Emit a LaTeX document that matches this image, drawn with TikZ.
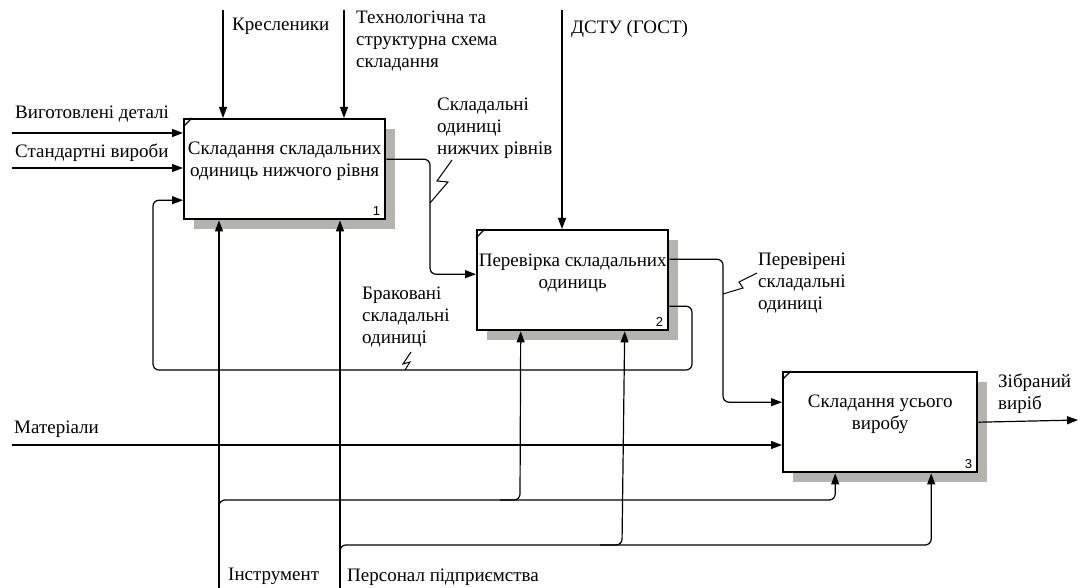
\documentclass[tikz,border=0pt]{standalone}
\usepackage{fontspec}
\setmainfont{Liberation Serif}
\setsansfont{Liberation Sans}
\usetikzlibrary{arrows.meta, shadows}

\begin{document}
\begin{tikzpicture}[x=1pt, y=-1pt,
    func/.style={draw=borderColour, fill=white, line width=2.4pt, minimum width=#1,
        minimum height=100pt, inner sep=0pt, anchor=north west,
        general shadow={fill=shadowColour, shadow xshift=10pt, shadow yshift=-10pt}},
    functext/.style={align=center, font=\fontsize{19}{22}\selectfont},
    num/.style={font=\sffamily\fontsize{13}{13}\selectfont, inner sep=1pt, anchor=south east},
    flow/.style={line width=1.2pt, draw=borderColour, rounded corners=6pt,
        -{Triangle[length=11pt,width=8pt]}},
    label/.style={anchor=west, align=left, inner sep=0pt, font=\fontsize{19}{22}\selectfont},
    squiggle/.style={line width=1pt, draw=borderColour}]

    \definecolor{borderColour}{HTML}{000000}
    \definecolor{shadowColour}{HTML}{B5B3AE}

    % Fix page size
    \useasboundingbox (0,0) rectangle (1080,588);

    % Draw the three function boxes
    \node[func=201pt] (b1) at (183,118) {};
    \node[func=191pt] (b2) at (476,229) {};
    \node[func=194pt] (b3) at (782,371) {};

    \foreach \b/\n in {b1/1, b2/2, b3/3} {
        \draw[line width=1.2pt] ([yshift=-9pt]\b.north west) -- ([xshift=9pt]\b.north west);
        \node[num] at ([xshift=-5pt, yshift=4pt]\b.south east) {\n};
    }

    \node[functext] at ([yshift=8pt]b1.center) {Складання складальних\\одиниць нижчого рівня};
    \node[functext] at ([yshift=7pt]b2.center) {Перевірка складальних\\одиниць};
    \node[functext] at ([yshift=8pt]b3.center) {Складання усього\\виробу};

    % Define free ends of the arrows
    \coordinate (parts) at (12,133);
    \coordinate (standard) at (12,168);
    \coordinate (materials) at (12,445);
    \coordinate (drawings) at (223,10);
    \coordinate (scheme) at (344,10);
    \coordinate (standards) at (562,10);
    \coordinate (tools) at (219,588);
    \coordinate (staff) at (340,588);
    \coordinate (product) at (1078,420);

    % Draw inputs
    \draw[flow] (parts) -- (parts -| b1.west);
    \draw[flow] (standard) -- (standard -| b1.west);
    \draw[flow] (materials) -- (materials -| b3.west);

    % Draw controls
    \draw[flow] (drawings) -- (drawings |- b1.north);
    \draw[flow] (scheme) -- (scheme |- b1.north);
    \draw[flow] (standards) -- (standards |- b2.north);

    % Draw links between the boxes
    \draw[flow] ([yshift=10pt]b1.east) -| (430,220) |- ([yshift=6pt]b2.west);
    \draw[flow] ([yshift=21pt]b2.east) -| (723,330) |- ([yshift=20pt]b3.west);
    \draw[flow] ([yshift=-26pt]b2.east) -| (692,370) -| (153,250) |- ([yshift=-31pt]b1.west);
    \draw[flow] (b3.east) -- (product);

    % Draw mechanisms
    \draw[flow] (tools) -- (tools |- b1.south);
    \draw[flow] (219,520) |- (520,500) -- ([xshift=-52pt]b2.south);
    \draw[flow] (500,500) -| ([xshift=-45pt]b3.south);
    \draw[flow] (staff) -- (staff |- b1.south);
    \draw[flow] (340,565) |- (622,545) -- ([xshift=52pt]b2.south);
    \draw[flow] (600,545) -| ([xshift=51pt]b3.south);

    % Draw squiggles for the labels
    \draw[squiggle] (430,203) -- (448,182) -- (437,181) -- (452,160);
    \draw[squiggle] (405,370) -- (410,362) -- (403,364) -- (411,352);
    \draw[squiggle] (723,294) -- (743,288) -- (739,282) -- (757,273);

    % Label the arrows
    \node[label] (lparts) at (15,114) {Виготовлені деталі};
    \node[label] (lstandard) at (15,153) {Стандартні вироби};
    \node[label] (lmaterials) at (14,429) {Матеріали};
    \node[label] (ldrawings) at (232,26) {Кресленики};
    \node[label] (lscheme) at (356,41) {Технологічна та\\структурна схема\\складання};
    \node[label] (lstandards) at (571,29) {ДСТУ (ГОСТ)};
    \node[label] (lunits) at (437,128) {Складальні\\одиниці\\нижчих рівнів};
    \node[label] (lchecked) at (758,283) {Перевірені\\складальні\\одиниці};
    \node[label] (lrejected) at (362,317) {Браковані\\складальні\\одиниці};
    \node[label] (lproduct) at (998,394) {Зібраний\\виріб};
    \node[label] (ltools) at (228,576) {Інструмент};
    \node[label] (lstaff) at (347,577) {Персонал підприємства};

\end{tikzpicture}
\end{document}
